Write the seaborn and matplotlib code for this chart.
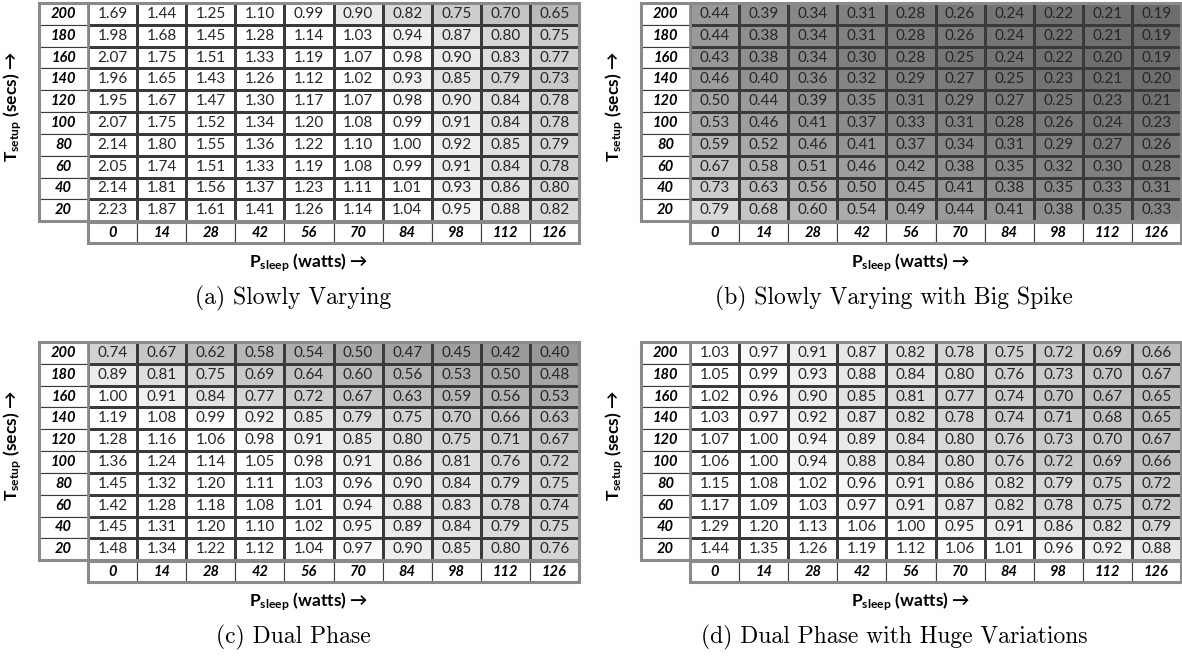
import pandas as pd
import matplotlib
matplotlib.use('Agg')
import matplotlib.pyplot as plt
from matplotlib.colors import LinearSegmentedColormap
from matplotlib.patches import Rectangle
import seaborn as sns

plt.rcParams['font.family'] = ['Lato', 'DejaVu Sans']
plt.rcParams['mathtext.fontset'] = 'custom'
plt.rcParams['mathtext.rm'] = 'Lato'
plt.rcParams['mathtext.bf'] = 'Lato:bold'
plt.rcParams['mathtext.it'] = 'Lato:italic'

t_setup = [200, 180, 160, 140, 120, 100, 80, 60, 40, 20]
p_sleep = [0, 14, 28, 42, 56, 70, 84, 98, 112, 126]

# (a) Slowly Varying
slowly_varying = [
    [1.69, 1.44, 1.25, 1.10, 0.99, 0.90, 0.82, 0.75, 0.70, 0.65],
    [1.98, 1.68, 1.45, 1.28, 1.14, 1.03, 0.94, 0.87, 0.80, 0.75],
    [2.07, 1.75, 1.51, 1.33, 1.19, 1.07, 0.98, 0.90, 0.83, 0.77],
    [1.96, 1.65, 1.43, 1.26, 1.12, 1.02, 0.93, 0.85, 0.79, 0.73],
    [1.95, 1.67, 1.47, 1.30, 1.17, 1.07, 0.98, 0.90, 0.84, 0.78],
    [2.07, 1.75, 1.52, 1.34, 1.20, 1.08, 0.99, 0.91, 0.84, 0.78],
    [2.14, 1.80, 1.55, 1.36, 1.22, 1.10, 1.00, 0.92, 0.85, 0.79],
    [2.05, 1.74, 1.51, 1.33, 1.19, 1.08, 0.99, 0.91, 0.84, 0.78],
    [2.14, 1.81, 1.56, 1.37, 1.23, 1.11, 1.01, 0.93, 0.86, 0.80],
    [2.23, 1.87, 1.61, 1.41, 1.26, 1.14, 1.04, 0.95, 0.88, 0.82],
]

# (b) Slowly Varying with Big Spike
big_spike = [
    [0.44, 0.39, 0.34, 0.31, 0.28, 0.26, 0.24, 0.22, 0.21, 0.19],
    [0.44, 0.38, 0.34, 0.31, 0.28, 0.26, 0.24, 0.22, 0.21, 0.19],
    [0.43, 0.38, 0.34, 0.30, 0.28, 0.25, 0.24, 0.22, 0.20, 0.19],
    [0.46, 0.40, 0.36, 0.32, 0.29, 0.27, 0.25, 0.23, 0.21, 0.20],
    [0.50, 0.44, 0.39, 0.35, 0.31, 0.29, 0.27, 0.25, 0.23, 0.21],
    [0.53, 0.46, 0.41, 0.37, 0.33, 0.31, 0.28, 0.26, 0.24, 0.23],
    [0.59, 0.52, 0.46, 0.41, 0.37, 0.34, 0.31, 0.29, 0.27, 0.26],
    [0.67, 0.58, 0.51, 0.46, 0.42, 0.38, 0.35, 0.32, 0.30, 0.28],
    [0.73, 0.63, 0.56, 0.50, 0.45, 0.41, 0.38, 0.35, 0.33, 0.31],
    [0.79, 0.68, 0.60, 0.54, 0.49, 0.44, 0.41, 0.38, 0.35, 0.33],
]

# (c) Dual Phase
dual_phase = [
    [0.74, 0.67, 0.62, 0.58, 0.54, 0.50, 0.47, 0.45, 0.42, 0.40],
    [0.89, 0.81, 0.75, 0.69, 0.64, 0.60, 0.56, 0.53, 0.50, 0.48],
    [1.00, 0.91, 0.84, 0.77, 0.72, 0.67, 0.63, 0.59, 0.56, 0.53],
    [1.19, 1.08, 0.99, 0.92, 0.85, 0.79, 0.75, 0.70, 0.66, 0.63],
    [1.28, 1.16, 1.06, 0.98, 0.91, 0.85, 0.80, 0.75, 0.71, 0.67],
    [1.36, 1.24, 1.14, 1.05, 0.98, 0.91, 0.86, 0.81, 0.76, 0.72],
    [1.45, 1.32, 1.20, 1.11, 1.03, 0.96, 0.90, 0.84, 0.79, 0.75],
    [1.42, 1.28, 1.18, 1.08, 1.01, 0.94, 0.88, 0.83, 0.78, 0.74],
    [1.45, 1.31, 1.20, 1.10, 1.02, 0.95, 0.89, 0.84, 0.79, 0.75],
    [1.48, 1.34, 1.22, 1.12, 1.04, 0.97, 0.90, 0.85, 0.80, 0.76],
]

# (d) Dual Phase with Huge Variations
huge_variations = [
    [1.03, 0.97, 0.91, 0.87, 0.82, 0.78, 0.75, 0.72, 0.69, 0.66],
    [1.05, 0.99, 0.93, 0.88, 0.84, 0.80, 0.76, 0.73, 0.70, 0.67],
    [1.02, 0.96, 0.90, 0.85, 0.81, 0.77, 0.74, 0.70, 0.67, 0.65],
    [1.03, 0.97, 0.92, 0.87, 0.82, 0.78, 0.74, 0.71, 0.68, 0.65],
    [1.07, 1.00, 0.94, 0.89, 0.84, 0.80, 0.76, 0.73, 0.70, 0.67],
    [1.06, 1.00, 0.94, 0.88, 0.84, 0.80, 0.76, 0.72, 0.69, 0.66],
    [1.15, 1.08, 1.02, 0.96, 0.91, 0.86, 0.82, 0.79, 0.75, 0.72],
    [1.17, 1.09, 1.03, 0.97, 0.91, 0.87, 0.82, 0.78, 0.75, 0.72],
    [1.29, 1.20, 1.13, 1.06, 1.00, 0.95, 0.91, 0.86, 0.82, 0.79],
    [1.44, 1.35, 1.26, 1.19, 1.12, 1.06, 1.01, 0.96, 0.92, 0.88],
]

captions = ['(a) Slowly Varying', '(b) Slowly Varying with Big Spike',
            '(c) Dual Phase', '(d) Dual Phase with Huge Variations']

W, H = 1182, 656
fig = plt.figure(figsize=(W / 100, H / 100), dpi=100)

# left edge, top edge, darkest grey, caption centre
layout = [
    (slowly_varying, 39, 3, '#b9b9b9', 293),
    (big_spike, 641, 3, '#6c6c6c', 894),
    (dual_phase, 39, 342, '#979797', 293),
    (huge_variations, 641, 342, '#bcbcbc', 894),
]

grid = '#3a3a3a'
frame = '#8a8a8a'

for (vals, x0, y0, dark, cap_x), caption in zip(layout, captions):
    width, height = 540, 240
    ax = fig.add_axes([x0 / W, 1 - (y0 + height) / H, width / W, height / H])
    df = pd.DataFrame(vals, index=t_setup, columns=p_sleep)
    cmap = LinearSegmentedColormap.from_list('grey_' + dark, [dark, '#ffffff'])
    sns.heatmap(df, ax=ax, annot=True, fmt='.2f', cmap=cmap,
                vmin=df.min().min(), vmax=1.0, cbar=False,
                linewidths=0.8, linecolor=grid,
                xticklabels=False, yticklabels=False,
                annot_kws={'fontsize': 11, 'color': '#262626'})
    ax.set_xlim(-1, 10)
    ax.set_ylim(11, 0)
    ax.set_xlabel('')
    ax.set_ylabel('')

    # row / column header cells
    for i, t in enumerate(t_setup):
        ax.add_patch(Rectangle((-1, i), 1, 1, fc='white', ec=grid, lw=0.8, clip_on=False))
        ax.text(-0.5, i + 0.5, str(t), ha='center', va='center', fontsize=10.5,
                fontweight='bold', fontstyle='italic', color='black')
    for j, p in enumerate(p_sleep):
        ax.add_patch(Rectangle((j, 10.06), 1, 0.94, fc='white', ec=grid, lw=0.8, clip_on=False))
        ax.text(j + 0.5, 10.53, str(p), ha='center', va='center', fontsize=10.5,
                fontweight='bold', fontstyle='italic', color='black')

    ax.add_patch(Rectangle((-1, 0), 11, 10, fill=False, ec=frame, lw=2.2, clip_on=False))
    ax.add_patch(Rectangle((0, 10.06), 10, 0.94, fill=False, ec=frame, lw=2.2, clip_on=False))
    ax.vlines(0, 0, 10, color=frame, lw=2)

    cx = (x0 + width / 2) / W
    fig.text(cx, 1 - (y0 + 260) / H, r'$\mathbf{P}_{\mathbf{sleep}}$' + ' (watts) \u2192',
             ha='center', va='center', fontsize=12.5, fontweight='bold')
    fig.text((x0 - 26) / W, 1 - (y0 + 104) / H, r'$\mathbf{T}_{\mathbf{setup}}$' + ' (secs) \u2192',
             ha='center', va='center', rotation=90, fontsize=12.5, fontweight='bold')
    fig.text(cap_x / W, 1 - (y0 + 295) / H, caption, ha='center', va='center',
             fontsize=17, family='cmr10')

fig.savefig('out.png', dpi=100)
